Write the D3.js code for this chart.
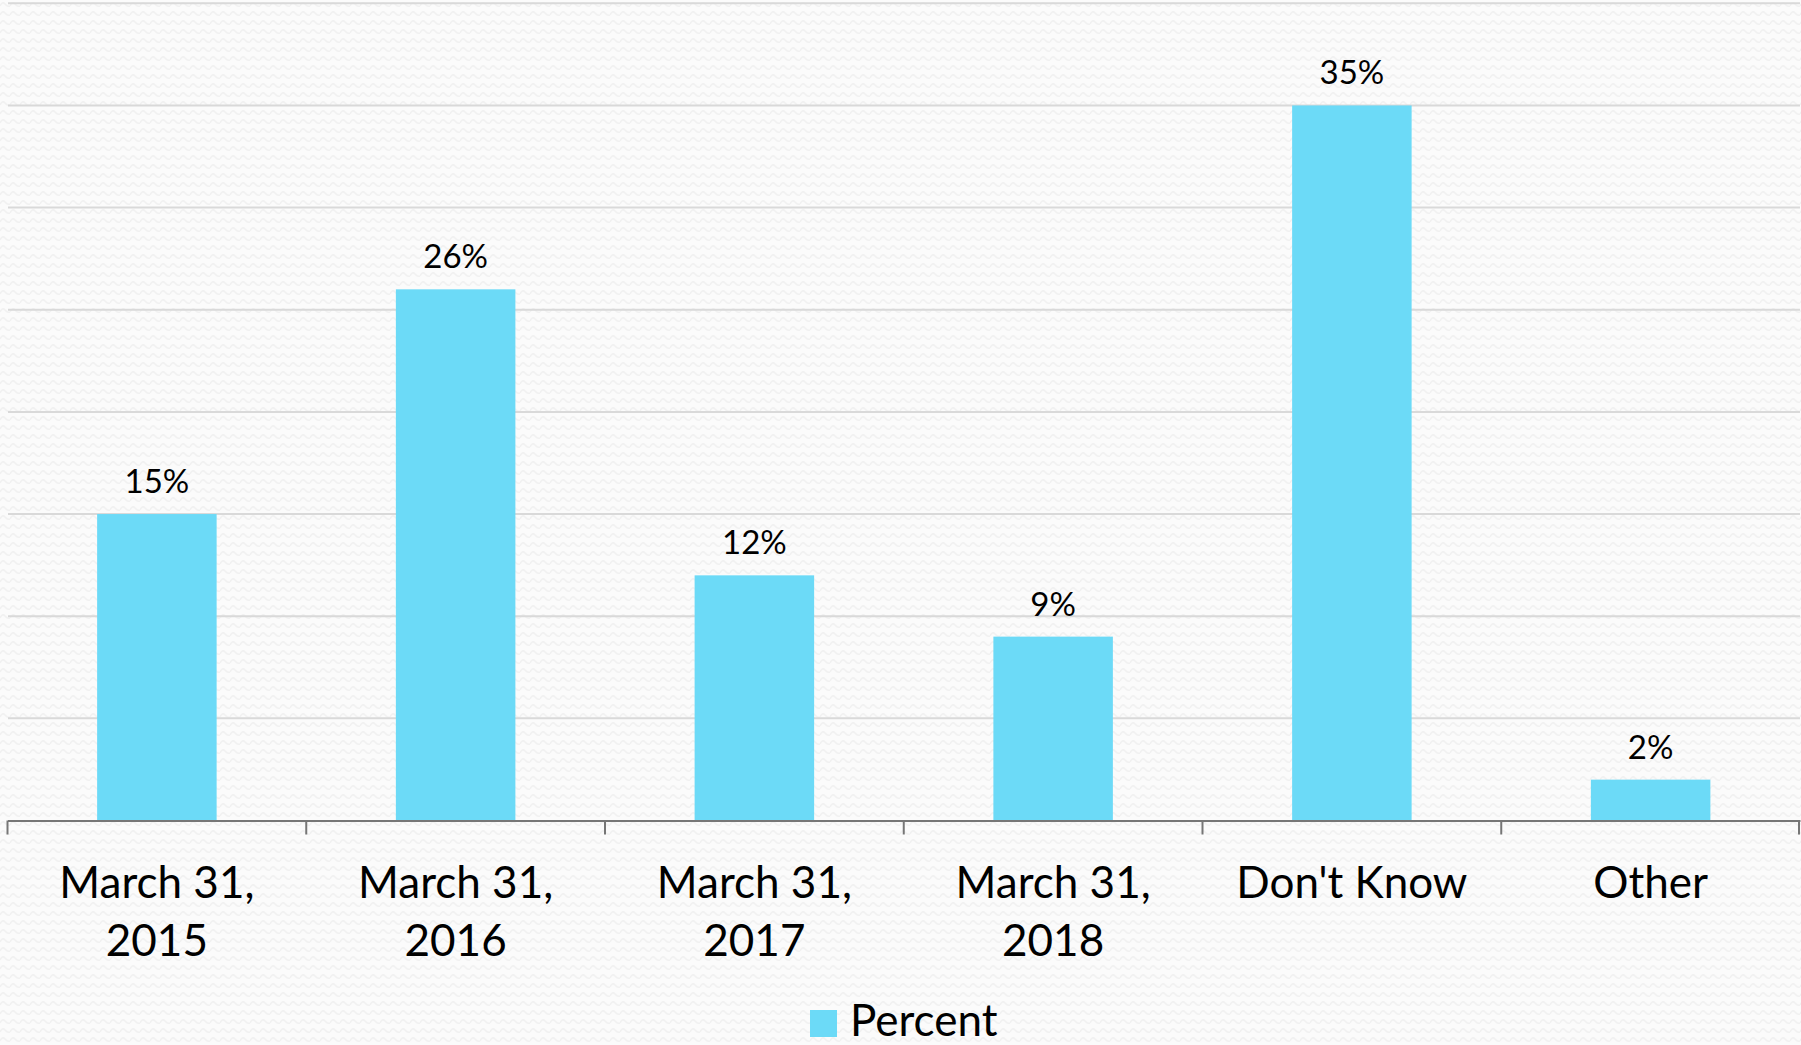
<!DOCTYPE html>
<html>
<head>
<meta charset="utf-8">
<script src="https://cdn.jsdelivr.net/npm/d3@7"></script>
<style>
  html, body { margin: 0; padding: 0; background: #fafafa; }
  svg { display: block; }
  text { font-family: Lato, "Open Sans", sans-serif; fill: #000; }
</style>
</head>
<body>
<svg id="chart" width="1801" height="1045"></svg>
<script>
// Survey answers: expected date, share of respondents
const categories = [["March 31,", "2015"], ["March 31,", "2016"], ["March 31,", "2017"], ["March 31,", "2018"], ["Don't Know"], ["Other"]];
const percents = [15, 26, 12, 9, 35, 2];
const gridTicks = [5, 10, 15, 20, 25, 30, 35, 40];
const seriesName = "Percent";

const W = 1801, H = 1045;
const plot = { left: 7.5, right: 1800, top: 3.3, bottom: 820.5 };
const barColor = "#6cdaf7";

const svg = d3.select("#chart");

// Soft wavy paper texture behind everything
const defs = svg.append("defs");
const pat = defs.append("pattern")
  .attr("id", "waves").attr("patternUnits", "userSpaceOnUse")
  .attr("width", 10).attr("height", 9);
pat.append("rect").attr("width", 10).attr("height", 9).attr("fill", "#fbfbfb");
pat.append("path")
  .attr("d", "M0,6 Q2.5,1 5,4 T10,6")
  .attr("fill", "none").attr("stroke", "#f1f1f1").attr("stroke-width", 1.5);
svg.append("rect").attr("width", W).attr("height", H).attr("fill", "url(#waves)");

const keys = categories.map(c => c.join(" "));

const x = d3.scaleBand()
  .domain(keys)
  .range([plot.left, plot.right])
  .paddingInner(0.6)
  .paddingOuter(0.3);

const y = d3.scaleLinear()
  .domain([0, 40])
  .range([plot.bottom, plot.top]);

// Horizontal gridlines
svg.append("g")
  .selectAll("line")
  .data(gridTicks)
  .join("line")
  .attr("x1", plot.left + 0.5).attr("x2", plot.right)
  .attr("y1", d => y(d)).attr("y2", d => y(d))
  .attr("stroke", "#d9d9d9").attr("stroke-width", 2);

// Bars
svg.append("g")
  .selectAll("rect")
  .data(percents)
  .join("rect")
  .attr("x", (d, i) => x(keys[i]))
  .attr("width", x.bandwidth())
  .attr("y", d => y(d))
  .attr("height", d => y(0) - y(d))
  .attr("fill", barColor);

// Value labels
svg.append("g")
  .selectAll("text")
  .data(percents)
  .join("text")
  .attr("x", (d, i) => x(keys[i]) + x.bandwidth() / 2)
  .attr("y", d => y(d) - 21)
  .attr("text-anchor", "middle")
  .style("font-size", "33px")
  .text(d => d + "%");

// Category axis
const axis = svg.append("g")
  .attr("transform", `translate(0,${plot.bottom})`)
  .call(d3.axisBottom(x).tickSize(0).tickSizeOuter(0).tickFormat(""));
axis.select(".domain").attr("stroke", "#767676").attr("stroke-width", 2);

// Tick marks sit on the boundaries between categories
const edges = d3.range(keys.length + 1).map(i => plot.left + i * x.step());
axis.selectAll(".edge")
  .data(edges)
  .join("line")
  .attr("class", "edge")
  .attr("x1", d => Math.min(d, plot.right - 1)).attr("x2", d => Math.min(d, plot.right - 1))
  .attr("y1", 0).attr("y2", 14)
  .attr("stroke", "#767676").attr("stroke-width", 2);

// Two-line category labels
axis.selectAll(".tick").each(function (k, i) {
  const t = d3.select(this).append("text")
    .attr("text-anchor", "middle")
    .style("font-size", "44px");
  categories[i].forEach((line, j) => {
    t.append("tspan").attr("x", 0).attr("y", 77 + j * 58).text(line);
  });
});

// Legend
const legend = svg.append("g").attr("transform", "translate(810,1010)");
legend.append("rect").attr("width", 27).attr("height", 27).attr("fill", barColor);
legend.append("text").attr("x", 40).attr("y", 26).style("font-size", "44px").text(seriesName);
</script>
</body>
</html>
